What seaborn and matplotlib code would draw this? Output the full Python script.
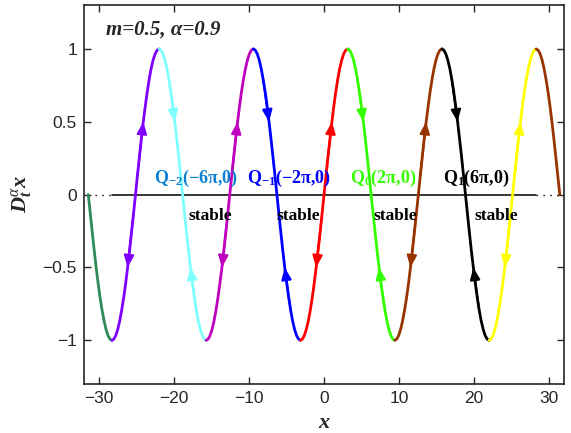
import numpy as np
import pandas as pd
import matplotlib
matplotlib.use("Agg")
import matplotlib.pyplot as plt
import seaborn as sns

# ---------------- data ----------------
x_vals = [
    -31.42, -31.15, -30.89, -30.63, -30.37, -30.11, -29.85, -29.58, -29.32, -29.06, -28.80, -28.54,
    -28.27, -28.01, -27.75, -27.49, -27.23, -26.97, -26.70, -26.44, -26.18, -25.92, -25.66, -25.39,
    -25.13, -24.87, -24.61, -24.35, -24.09, -23.82, -23.56, -23.30, -23.04, -22.78, -22.51, -22.25,
    -21.99, -21.73, -21.47, -21.21, -20.94, -20.68, -20.42, -20.16, -19.90, -19.63, -19.37, -19.11,
    -18.85, -18.59, -18.33, -18.06, -17.80, -17.54, -17.28, -17.02, -16.76, -16.49, -16.23, -15.97,
    -15.71, -15.45, -15.18, -14.92, -14.66, -14.40, -14.14, -13.88, -13.61, -13.35, -13.09, -12.83,
    -12.57, -12.30, -12.04, -11.78, -11.52, -11.26, -11.00, -10.73, -10.47, -10.21, -9.95, -9.69,
    -9.42, -9.16, -8.90, -8.64, -8.38, -8.12, -7.85, -7.59, -7.33, -7.07, -6.81, -6.54,
    -6.28, -6.02, -5.76, -5.50, -5.24, -4.97, -4.71, -4.45, -4.19, -3.93, -3.67, -3.40,
    -3.14, -2.88, -2.62, -2.36, -2.09, -1.83, -1.57, -1.31, -1.05, -0.79, -0.52, -0.26,
    0.00, 0.26, 0.52, 0.79, 1.05, 1.31, 1.57, 1.83, 2.09, 2.36, 2.62, 2.88,
    3.14, 3.40, 3.67, 3.93, 4.19, 4.45, 4.71, 4.97, 5.24, 5.50, 5.76, 6.02,
    6.28, 6.54, 6.81, 7.07, 7.33, 7.59, 7.85, 8.12, 8.38, 8.64, 8.90, 9.16,
    9.42, 9.69, 9.95, 10.21, 10.47, 10.73, 11.00, 11.26, 11.52, 11.78, 12.04, 12.30,
    12.57, 12.83, 13.09, 13.35, 13.61, 13.88, 14.14, 14.40, 14.66, 14.92, 15.18, 15.45,
    15.71, 15.97, 16.23, 16.49, 16.76, 17.02, 17.28, 17.54, 17.80, 18.06, 18.33, 18.59,
    18.85, 19.11, 19.37, 19.63, 19.90, 20.16, 20.42, 20.68, 20.94, 21.21, 21.47, 21.73,
    21.99, 22.25, 22.51, 22.78, 23.04, 23.30, 23.56, 23.82, 24.09, 24.35, 24.61, 24.87,
    25.13, 25.39, 25.66, 25.92, 26.18, 26.44, 26.70, 26.97, 27.23, 27.49, 27.75, 28.01,
    28.27, 28.54, 28.80, 29.06, 29.32, 29.58, 29.85, 30.11, 30.37, 30.63, 30.89, 31.15,
    31.42,
]
y_vals = [
    0.0, -0.131, -0.259, -0.383, -0.5, -0.609, -0.707, -0.793, -0.866, -0.924, -0.966, -0.991,
    -1.0, -0.991, -0.966, -0.924, -0.866, -0.793, -0.707, -0.609, -0.5, -0.383, -0.259, -0.131,
    0.0, 0.131, 0.259, 0.383, 0.5, 0.609, 0.707, 0.793, 0.866, 0.924, 0.966, 0.991,
    1.0, 0.991, 0.966, 0.924, 0.866, 0.793, 0.707, 0.609, 0.5, 0.383, 0.259, 0.131,
    0.0, -0.131, -0.259, -0.383, -0.5, -0.609, -0.707, -0.793, -0.866, -0.924, -0.966, -0.991,
    -1.0, -0.991, -0.966, -0.924, -0.866, -0.793, -0.707, -0.609, -0.5, -0.383, -0.259, -0.131,
    0.0, 0.131, 0.259, 0.383, 0.5, 0.609, 0.707, 0.793, 0.866, 0.924, 0.966, 0.991,
    1.0, 0.991, 0.966, 0.924, 0.866, 0.793, 0.707, 0.609, 0.5, 0.383, 0.259, 0.131,
    0.0, -0.131, -0.259, -0.383, -0.5, -0.609, -0.707, -0.793, -0.866, -0.924, -0.966, -0.991,
    -1.0, -0.991, -0.966, -0.924, -0.866, -0.793, -0.707, -0.609, -0.5, -0.383, -0.259, -0.131,
    0.0, 0.131, 0.259, 0.383, 0.5, 0.609, 0.707, 0.793, 0.866, 0.924, 0.966, 0.991,
    1.0, 0.991, 0.966, 0.924, 0.866, 0.793, 0.707, 0.609, 0.5, 0.383, 0.259, 0.131,
    0.0, -0.131, -0.259, -0.383, -0.5, -0.609, -0.707, -0.793, -0.866, -0.924, -0.966, -0.991,
    -1.0, -0.991, -0.966, -0.924, -0.866, -0.793, -0.707, -0.609, -0.5, -0.383, -0.259, -0.131,
    0.0, 0.131, 0.259, 0.383, 0.5, 0.609, 0.707, 0.793, 0.866, 0.924, 0.966, 0.991,
    1.0, 0.991, 0.966, 0.924, 0.866, 0.793, 0.707, 0.609, 0.5, 0.383, 0.259, 0.131,
    0.0, -0.131, -0.259, -0.383, -0.5, -0.609, -0.707, -0.793, -0.866, -0.924, -0.966, -0.991,
    -1.0, -0.991, -0.966, -0.924, -0.866, -0.793, -0.707, -0.609, -0.5, -0.383, -0.259, -0.131,
    0.0, 0.131, 0.259, 0.383, 0.5, 0.609, 0.707, 0.793, 0.866, 0.924, 0.966, 0.991,
    1.0, 0.991, 0.966, 0.924, 0.866, 0.793, 0.707, 0.609, 0.5, 0.383, 0.259, 0.131,
    0.0,
]
seg_edges = [-31.42, -28.27, -21.99, -15.71, -9.42, -3.14, 3.14, 9.42, 15.71, 21.99, 28.27, 31.42]
seg_colors = ["#2e8b57", "#7f00ff", "#80ffff", "#bf00bf", "#0000ff", "#ff0000",
              "#33ff00", "#993300", "#000000", "#ffff00", "#993300"]
seg_arrows = [False, True, True, True, True, True, True, True, True, True, False]

q_labels = [r"$\mathbf{Q}_{\mathbf{-2}}\mathbf{(-6\pi{,}0)}$",
            r"$\mathbf{Q}_{\mathbf{-1}}\mathbf{(-2\pi{,}0)}$",
            r"$\mathbf{Q}_{\mathbf{0}}\mathbf{(2\pi{,}0)}$",
            r"$\mathbf{Q}_{\mathbf{1}}\mathbf{(6\pi{,}0)}$"]
q_label_x = [-22.7, -10.3, 3.4, 15.9]
q_colors = ["#0a80d0", "#0000ff", "#33ff00", "#000000"]
stable_x = [-15.2, -3.4, 9.5, 23.0]
zero_solid = [-28.27, 28.27]
zero_dotted_left = [-31.4, -28.27]
zero_dotted_right = [28.27, 31.4]
x_ticks = [-30, -20, -10, 0, 10, 20, 30]
y_ticks = [-1, -0.5, 0, 0.5, 1]
y_tick_labels = ["\u22121", "\u22120.5", "0", "0.5", "1"]
x_tick_labels = ["\u221230", "\u221220", "\u221210", "0", "10", "20", "30"]

# ---------------- style ----------------
sns.set_style("ticks")
plt.rcParams["font.family"] = ["Liberation Sans", "DejaVu Sans"]
plt.rcParams["mathtext.fontset"] = "custom"
plt.rcParams["mathtext.rm"] = "Liberation Serif"
plt.rcParams["mathtext.it"] = "Liberation Serif:italic"
plt.rcParams["mathtext.bf"] = "Liberation Serif:bold"
plt.rcParams["mathtext.bfit"] = "Liberation Serif:italic:bold"

fig = plt.figure(figsize=(5.71, 4.33), dpi=100)
ax = fig.add_axes([0.147, 0.113, 0.841, 0.875])

xa = np.array(x_vals)
ya = np.array(y_vals)
rows = []
for s in range(len(seg_edges) - 1):
    m = (xa >= seg_edges[s] - 1e-6) & (xa <= seg_edges[s + 1] + 1e-6)
    for xv, yv in zip(xa[m], ya[m]):
        rows.append({"x": xv, "y": yv, "seg": s})
df = pd.DataFrame(rows)

# zero line
ax.plot(zero_solid, [0, 0], color="black", lw=1.1, zorder=1)
ax.plot(zero_dotted_left, [0, 0], color="black", lw=1.0, ls=(0, (1, 4)), zorder=1)
ax.plot(zero_dotted_right, [0, 0], color="black", lw=1.0, ls=(0, (1, 4)), zorder=1)

sns.lineplot(data=df, x="x", y="y", hue="seg", palette=dict(enumerate(seg_colors)),
             sort=False, estimator=None, units="seg", legend=False, lw=2.0, ax=ax, zorder=3,
             solid_capstyle="round", solid_joinstyle="round")

# arrows on each full segment at y = +/-0.5 (x increases where y>0)
for s in range(len(seg_edges) - 1):
    if not seg_arrows[s]:
        continue
    idx = np.where((xa > seg_edges[s] + 1e-6) & (xa < seg_edges[s + 1] - 1e-6))[0]
    for i in idx:
        if abs(ya[i] - 0.5) < 1e-6:
            j = i - 3
        elif abs(ya[i] + 0.5) < 1e-6:
            j = i + 3
        else:
            continue
        ax.annotate("", xy=(xa[i], ya[i]), xytext=(xa[j], ya[j]),
                    arrowprops=dict(arrowstyle="-|>,head_length=0.6,head_width=0.25",
                                    color=seg_colors[s], lw=1.5, shrinkA=0, shrinkB=0,
                                    mutation_scale=12),
                    zorder=4)

for lab, xv, c in zip(q_labels, q_label_x, q_colors):
    ax.text(xv, 0.11, lab, color=c, fontsize=13, ha="left", va="center", zorder=5)
for xv in stable_x:
    ax.text(xv, -0.145, "stable", color="black", fontsize=12.5, ha="center", va="center",
            family="Liberation Serif", weight="bold", zorder=5)

ax.text(-29.0, 1.13, "m=0.5, \u03b1=0.9", fontsize=15, family="Liberation Serif",
        style="italic", weight="bold", ha="left", va="center")

ax.set_xlim(-32, 32)
ax.set_ylim(-1.3, 1.3)
ax.set_xticks(x_ticks)
ax.set_xticklabels(x_tick_labels)
ax.set_yticks(y_ticks)
ax.set_yticklabels(y_tick_labels)
ax.tick_params(direction="in", top=True, right=True, length=5, width=1, labelsize=12.5, pad=5)
for sp in ax.spines.values():
    sp.set_visible(True)
    sp.set_linewidth(1.2)

ax.set_xlabel(r"$\mathbfit{x}$", fontsize=16)
ax.set_ylabel(r"$\mathbfit{D}_{\mathbfit{t}}^{\alpha}\mathbfit{x}$", fontsize=16)
ax.xaxis.set_label_coords(0.5, -0.075)
ax.yaxis.set_label_coords(-0.105, 0.5)

fig.savefig("out.png", dpi=100)
